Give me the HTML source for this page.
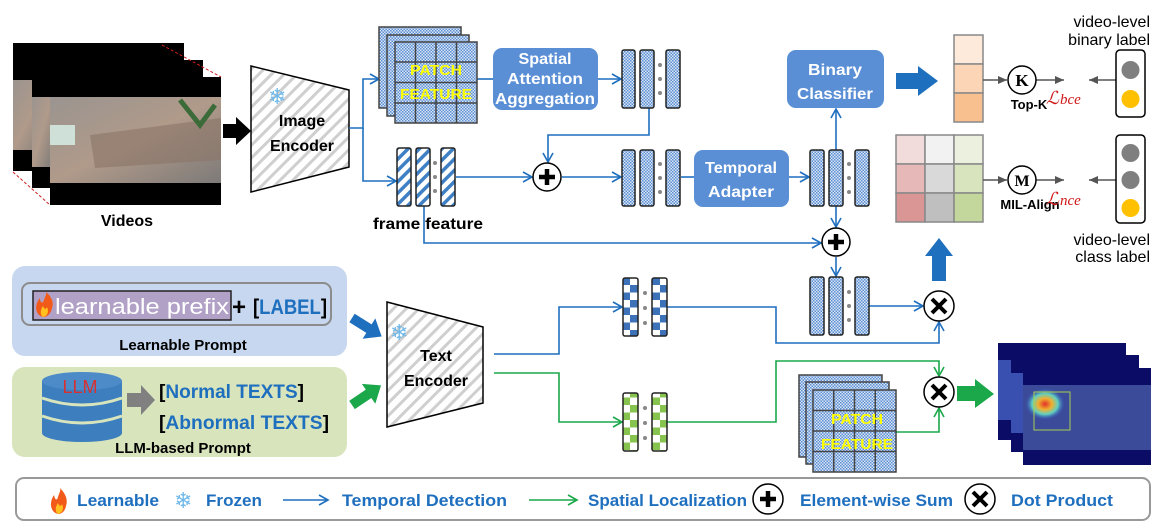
<!DOCTYPE html>
<html><head><meta charset="utf-8"><style>
html,body{margin:0;padding:0;background:#fff;}
svg{display:block;font-family:"Liberation Sans",sans-serif;}
</style></head><body>
<svg width="1162" height="532" viewBox="0 0 1162 532" xmlns="http://www.w3.org/2000/svg">
<defs>
<pattern id="hatch" width="9" height="9" patternUnits="userSpaceOnUse" patternTransform="rotate(45)">
<rect width="9" height="9" fill="#fff"/><rect width="3" height="9" fill="#cfcfcf"/></pattern>
<pattern id="stripe" width="8" height="8" patternUnits="userSpaceOnUse" patternTransform="rotate(45)">
<rect width="8" height="8" fill="#fff"/><rect width="3.5" height="8" fill="#3f7fc4"/></pattern>
<pattern id="dots" width="3" height="3" patternUnits="userSpaceOnUse">
<rect width="3" height="3" fill="#dbe6f5"/><rect width="1.5" height="1.5" fill="#5b8ed2"/><rect x="1.5" y="1.5" width="1.5" height="1.5" fill="#5b8ed2"/></pattern>
<pattern id="chkB" width="15" height="15" patternUnits="userSpaceOnUse">
<rect width="15" height="15" fill="#fff"/><rect width="7.5" height="7.5" fill="#3d72b8"/><rect x="7.5" y="7.5" width="7.5" height="7.5" fill="#3d72b8"/></pattern>
<pattern id="chkG" width="15" height="15" patternUnits="userSpaceOnUse">
<rect width="15" height="15" fill="#fff"/><rect width="7.5" height="7.5" fill="#86c34f"/><rect x="7.5" y="7.5" width="7.5" height="7.5" fill="#86c34f"/></pattern>
<marker id="ab" markerWidth="12" markerHeight="12" refX="10" refY="6" orient="auto" markerUnits="userSpaceOnUse">
<path d="M1,1 L10,6 L1,11" fill="none" stroke="#1f6fbf" stroke-width="1.6"/></marker>
<marker id="ag" markerWidth="12" markerHeight="12" refX="10" refY="6" orient="auto" markerUnits="userSpaceOnUse">
<path d="M1,1 L10,6 L1,11" fill="none" stroke="#1aa84a" stroke-width="1.6"/></marker>
<marker id="agr" markerWidth="10" markerHeight="10" refX="9" refY="5" orient="auto" markerUnits="userSpaceOnUse">
<path d="M0,1 L9,5 L0,9 Z" fill="#555"/></marker>
<linearGradient id="photo" x1="0" y1="0" x2="1" y2="1">
<stop offset="0" stop-color="#9a9490"/><stop offset="0.5" stop-color="#b09a8a"/><stop offset="1" stop-color="#7d7a78"/></linearGradient>
<radialGradient id="heat" cx="0.5" cy="0.5" r="0.5">
<stop offset="0" stop-color="#e0302a"/><stop offset="0.35" stop-color="#f0b030"/><stop offset="0.65" stop-color="#60d0c0"/><stop offset="1" stop-color="#3050c0" stop-opacity="0"/></radialGradient>
</defs>

<!-- Videos -->
<g>
<rect x="13" y="43" width="171" height="128" fill="#000"/>
<rect x="13" y="80" width="36" height="70" fill="url(#photo)"/>
<rect x="32" y="60" width="171" height="128" fill="#000"/>
<rect x="32" y="97" width="20" height="70" fill="url(#photo)"/>
<rect x="50" y="77" width="171" height="128" fill="#000"/>
<rect x="50" y="97" width="171" height="86" fill="url(#photo)"/>
<rect x="50" y="125" width="25" height="20" fill="#cfe0d8"/>
<path d="M90,135 L221,118 L221,160 L95,168 Z" fill="#8a7468" opacity="0.6"/>
<path d="M180,100 L200,125 L215,105" stroke="#3c6b3a" stroke-width="5" fill="none"/>
<line x1="162" y1="45" x2="221" y2="77" stroke="#d02020" stroke-dasharray="3,2"/>
<line x1="13" y1="172" x2="50" y2="205" stroke="#d02020" stroke-dasharray="3,2"/>
<text x="127" y="226" font-size="16" font-weight="bold" text-anchor="middle">Videos</text>
</g>
<path d="M223,124 L236,124 L236,117 L251,131 L236,145 L236,138 L223,138 Z" fill="#000"/>

<!-- Image encoder -->
<path d="M251,66 L349,90 L349,167 L251,192 Z" fill="url(#hatch)" stroke="#000" stroke-width="1.5"/>
<text x="268" y="104" font-size="22" fill="#6fb8e8">❄</text>
<text x="302" y="126" font-size="16" font-weight="bold" text-anchor="middle">Image</text>
<text x="302" y="151" font-size="16" font-weight="bold" text-anchor="middle">Encoder</text>

<!-- connectors -->
<g fill="none" stroke="#1f6fbf" stroke-width="1.6">
<path d="M349,128 L363,128 L363,79 L379,79" marker-end="url(#ab)"/>
<path d="M363,128 L363,181 L396,181" marker-end="url(#ab)"/>
<path d="M477,79 L493,79"/>
<path d="M598,79 L621,79" marker-end="url(#ab)"/>
<path d="M649,108 L649,135 L548,135 L548,162" marker-end="url(#ab)"/>
<path d="M456,177 L532,177" marker-end="url(#ab)"/>
<path d="M562,177 L621,177" marker-end="url(#ab)"/>
<path d="M681,177 L694,177"/>
<path d="M789,177 L809,177" marker-end="url(#ab)"/>
<path d="M836,150 L836,109" marker-end="url(#ab)"/>
<path d="M836,206 L836,227" marker-end="url(#ab)"/>
<path d="M424,206 L424,243 L821,243" marker-end="url(#ab)"/>
<path d="M836,257 L836,276" marker-end="url(#ab)"/>
<path d="M869,306 L923,306" marker-end="url(#ab)"/>
<path d="M494,354 L559,354 L559,307 L622,307" marker-end="url(#ab)"/>
<path d="M667,307 L776,307 L776,343 L939,343 L939,322" marker-end="url(#ab)"/>
</g>
<g fill="none" stroke="#1aa84a" stroke-width="1.6">
<path d="M494,373 L559,373 L559,422 L622,422" marker-end="url(#ag)"/>
<path d="M667,422 L776,422 L776,361 L939,361 L939,376" marker-end="url(#ag)"/>
<path d="M896,432 L939,432 L939,408" marker-end="url(#ag)"/>
</g>

<!-- Patch stack 1 -->
<g stroke="#444" stroke-width="1.5">
<rect x="379" y="27" width="82" height="81" fill="url(#dots)"/>
<rect x="387" y="35" width="82" height="81" fill="url(#dots)"/>
<rect x="395" y="42" width="82" height="81" fill="url(#dots)"/>
<path d="M415.5,42 V123 M436,42 V123 M456.5,42 V123 M395,62 H477 M395,82.5 H477 M395,103 H477" fill="none"/>
</g>
<text x="436" y="75" font-size="15" font-weight="bold" fill="#ffff00" text-anchor="middle" textLength="52" lengthAdjust="spacingAndGlyphs">PATCH</text>
<text x="436" y="99" font-size="15" font-weight="bold" fill="#ffff00" text-anchor="middle" textLength="72" lengthAdjust="spacingAndGlyphs">FEATURE</text>

<!-- SAA box -->
<rect x="493" y="48" width="105" height="62" rx="9" fill="#5a8fd5"/>
<g font-size="16" font-weight="bold" fill="#fff" text-anchor="middle">
<text x="545" y="64" textLength="53" lengthAdjust="spacingAndGlyphs">Spatial</text><text x="545" y="84" textLength="76" lengthAdjust="spacingAndGlyphs">Attention</text><text x="545" y="104" textLength="100" lengthAdjust="spacingAndGlyphs">Aggregation</text>
</g>

<!-- feature columns -->
<g stroke="#222" stroke-width="1.5">
<rect x="622" y="50" width="13" height="58" rx="2" fill="url(#dots)"/>
<rect x="640" y="50" width="14" height="58" rx="2" fill="url(#dots)"/>
<rect x="666" y="50" width="14" height="58" rx="2" fill="url(#dots)"/>
<rect x="622" y="150" width="13" height="56" rx="2" fill="url(#dots)"/>
<rect x="640" y="150" width="14" height="56" rx="2" fill="url(#dots)"/>
<rect x="666" y="150" width="14" height="56" rx="2" fill="url(#dots)"/>
<rect x="810" y="150" width="14" height="56" rx="2" fill="url(#dots)"/>
<rect x="829" y="150" width="14" height="56" rx="2" fill="url(#dots)"/>
<rect x="855" y="150" width="14" height="56" rx="2" fill="url(#dots)"/>
<rect x="810" y="277" width="14" height="58" rx="2" fill="url(#dots)"/>
<rect x="829" y="277" width="14" height="58" rx="2" fill="url(#dots)"/>
<rect x="855" y="277" width="14" height="58" rx="2" fill="url(#dots)"/>
<rect x="397" y="148" width="14" height="58" rx="2" fill="url(#stripe)"/>
<rect x="416" y="148" width="14" height="58" rx="2" fill="url(#stripe)"/>
<rect x="441" y="148" width="14" height="58" rx="2" fill="url(#stripe)"/>
<rect x="623" y="278" width="15" height="58" rx="2" fill="url(#chkB)"/>
<rect x="652" y="278" width="15" height="58" rx="2" fill="url(#chkB)"/>
<rect x="623" y="393" width="15" height="58" rx="2" fill="url(#chkG)"/>
<rect x="652" y="393" width="15" height="58" rx="2" fill="url(#chkG)"/>
</g>
<g fill="#888">
<circle cx="660" cy="65" r="2"/><circle cx="660" cy="79" r="2"/><circle cx="660" cy="93" r="2"/>
<circle cx="660" cy="164" r="2"/><circle cx="660" cy="178" r="2"/><circle cx="660" cy="192" r="2"/>
<circle cx="849" cy="164" r="2"/><circle cx="849" cy="178" r="2"/><circle cx="849" cy="192" r="2"/>
<circle cx="849" cy="292" r="2"/><circle cx="849" cy="306" r="2"/><circle cx="849" cy="320" r="2"/>
<circle cx="435" cy="163" r="2"/><circle cx="435" cy="177" r="2"/><circle cx="435" cy="191" r="2"/>
<circle cx="645" cy="293" r="2"/><circle cx="645" cy="308" r="2"/><circle cx="645" cy="323" r="2"/>
<circle cx="645" cy="408" r="2"/><circle cx="645" cy="423" r="2"/><circle cx="645" cy="438" r="2"/>
</g>
<text x="428" y="229" font-size="16" font-weight="bold" text-anchor="middle" textLength="110" lengthAdjust="spacingAndGlyphs">frame feature</text>

<!-- plus circles -->
<circle cx="547" cy="177" r="14" fill="#fff" stroke="#000" stroke-width="1.5"/>
<path d="M539,177 H555 M547,169 V185" stroke="#000" stroke-width="4.5"/>
<circle cx="836" cy="242" r="14" fill="#fff" stroke="#000" stroke-width="1.5"/>
<path d="M828,242 H844 M836,234 V250" stroke="#000" stroke-width="4.5"/>

<!-- Temporal adapter -->
<rect x="694" y="150" width="95" height="57" rx="9" fill="#5a8fd5"/>
<text x="741" y="173" font-size="16" font-weight="bold" fill="#fff" text-anchor="middle" textLength="72" lengthAdjust="spacingAndGlyphs">Temporal</text>
<text x="741" y="197" font-size="16" font-weight="bold" fill="#fff" text-anchor="middle" textLength="66" lengthAdjust="spacingAndGlyphs">Adapter</text>
<!-- Binary classifier -->
<rect x="787" y="50" width="97" height="58" rx="9" fill="#5a8fd5"/>
<text x="835" y="75" font-size="16" font-weight="bold" fill="#fff" text-anchor="middle" textLength="54" lengthAdjust="spacingAndGlyphs">Binary</text>
<text x="835" y="99" font-size="16" font-weight="bold" fill="#fff" text-anchor="middle" textLength="76" lengthAdjust="spacingAndGlyphs">Classifier</text>

<!-- big blue arrows -->
<path d="M896,73 L918,73 L918,66 L938,81 L918,96 L918,89 L896,89 Z" fill="#1f6fbf"/>
<path d="M932,281 L932,256 L925,256 L939,238 L953,256 L946,256 L946,281 Z" fill="#1f6fbf"/>

<!-- orange column -->
<g stroke="#888" stroke-width="1.5">
<rect x="954" y="35" width="29" height="29" fill="#fdeada"/>
<rect x="954" y="64" width="29" height="29" fill="#fbd5b5"/>
<rect x="954" y="93" width="29" height="29" fill="#f9c08f"/>
</g>
<!-- matrix -->
<g stroke="#888" stroke-width="1.5">
<rect x="896" y="135" width="29" height="29" fill="#f2dcdb"/>
<rect x="925" y="135" width="29" height="29" fill="#f2f2f2"/>
<rect x="954" y="135" width="29" height="29" fill="#ebf1de"/>
<rect x="896" y="164" width="29" height="29" fill="#e6b9b8"/>
<rect x="925" y="164" width="29" height="29" fill="#d9d9d9"/>
<rect x="954" y="164" width="29" height="29" fill="#d7e4bd"/>
<rect x="896" y="193" width="29" height="29" fill="#d99694"/>
<rect x="925" y="193" width="29" height="29" fill="#bfbfbf"/>
<rect x="954" y="193" width="29" height="29" fill="#c3d69b"/>
</g>
<!-- K / M -->
<g stroke="#555" stroke-width="1.6" fill="none">
<path d="M983,80 L1007,80" marker-end="url(#agr)"/>
<path d="M1036,80 L1064,80" marker-end="url(#agr)"/>
<path d="M1116,80 L1089,80" marker-end="url(#agr)"/>
<path d="M983,180 L1007,180" marker-end="url(#agr)"/>
<path d="M1036,180 L1064,180" marker-end="url(#agr)"/>
<path d="M1116,180 L1089,180" marker-end="url(#agr)"/>
</g>
<circle cx="1022" cy="80" r="14" fill="#fff" stroke="#000" stroke-width="1.5"/>
<text x="1022" y="86" font-family="Liberation Serif,serif" font-size="17" font-weight="bold" text-anchor="middle">K</text>
<circle cx="1022" cy="180" r="14" fill="#fff" stroke="#000" stroke-width="1.5"/>
<text x="1022" y="186" font-family="Liberation Serif,serif" font-size="16" font-weight="bold" text-anchor="middle">M</text>
<text x="1029" y="109" font-size="13" font-weight="bold" text-anchor="middle">Top-K</text>
<text x="1030" y="209" font-size="13" font-weight="bold" text-anchor="middle">MIL-Align</text>
<text x="1046" y="104" font-family="Liberation Serif,serif" font-style="italic" font-size="18" fill="#d01818">ℒ<tspan font-size="15" dx="1">bce</tspan></text>
<text x="1046" y="205" font-family="Liberation Serif,serif" font-style="italic" font-size="18" fill="#d01818">ℒ<tspan font-size="15" dx="1">nce</tspan></text>

<!-- traffic lights -->
<rect x="1116" y="50" width="29" height="67" rx="4" fill="#fff" stroke="#000" stroke-width="1.5"/>
<circle cx="1130.5" cy="70" r="9" fill="#7f7f7f"/><circle cx="1130.5" cy="99" r="9" fill="#ffc000"/>
<rect x="1116" y="135" width="29" height="88" rx="4" fill="#fff" stroke="#000" stroke-width="1.5"/>
<circle cx="1130.5" cy="153" r="9" fill="#7f7f7f"/><circle cx="1130.5" cy="180" r="9" fill="#7f7f7f"/><circle cx="1130.5" cy="208" r="9" fill="#ffc000"/>
<g font-size="16" text-anchor="end">
<text x="1150" y="27">video-level</text><text x="1150" y="45">binary label</text>
<text x="1150" y="245">video-level</text><text x="1150" y="262">class label</text>
</g>

<!-- prompt boxes -->
<rect x="12" y="266" width="335" height="90" rx="13" fill="#c6d7ef"/>
<rect x="22" y="283" width="309" height="42" rx="8" fill="none" stroke="#8c8c8c" stroke-width="2"/>
<rect x="33" y="291" width="198" height="29" fill="#b2a1c7" stroke="#222" stroke-width="1.5"/>
<path d="M43,317 C35,315 34,305 40,298 C40,303 43,304 44,300 C45,296 47,295 46,292 C52,297 54,303 52,308 C51,313 48,317 43,317 Z" fill="#f25a1a"/>
<path d="M43,317 C40,315 40,310 43,306 C44,309 46,310 47,307 C49,311 48,316 43,317 Z" fill="#ffc020"/>
<text x="55" y="314" font-size="22" fill="#fff" textLength="174" lengthAdjust="spacingAndGlyphs">learnable prefix</text>
<text x="232" y="315" font-size="24" font-weight="bold">+</text>
<text x="253" y="314" font-size="21" font-weight="bold" fill="#1f6fbf" textLength="74" lengthAdjust="spacingAndGlyphs"><tspan fill="#000">[</tspan>LABEL<tspan fill="#000">]</tspan></text>
<text x="183" y="350" font-size="15" font-weight="bold" text-anchor="middle">Learnable Prompt</text>

<rect x="12" y="367" width="335" height="90" rx="13" fill="#d8e4bc"/>
<rect x="42" y="381" width="80" height="52" fill="#3d7ebf"/>
<ellipse cx="82" cy="433" rx="40" ry="9" fill="#3d7ebf"/>
<ellipse cx="82" cy="381" rx="40" ry="9" fill="#4d8bc8"/>
<path d="M42,398 Q82,412 122,398 M42,416 Q82,430 122,416" stroke="#d8e4bc" stroke-width="3" fill="none"/>
<text x="80" y="393" font-size="18" fill="#d83030" text-anchor="middle">LLM</text>
<path d="M127,393 L141,393 L141,385 L155,400 L141,415 L141,407 L127,407 Z" fill="#808080"/>
<text x="159" y="398" font-size="19" font-weight="bold" fill="#1f6fbf" textLength="145" lengthAdjust="spacingAndGlyphs"><tspan fill="#000">[</tspan>Normal TEXTS<tspan fill="#000">]</tspan></text>
<text x="159" y="429" font-size="19" font-weight="bold" fill="#1f6fbf" textLength="170" lengthAdjust="spacingAndGlyphs"><tspan fill="#000">[</tspan>Abnormal TEXTS<tspan fill="#000">]</tspan></text>
<text x="183" y="453" font-size="15" font-weight="bold" text-anchor="middle">LLM-based Prompt</text>

<!-- prompt->encoder arrows -->
<g transform="translate(352,318) rotate(32)">
<path d="M0,-5 L20,-5 L20,-12 L35,0 L20,12 L20,5 L0,5 Z" fill="#1f6fbf"/>
</g>
<g transform="translate(352,405) rotate(-34)">
<path d="M0,-5 L20,-5 L20,-12 L35,0 L20,12 L20,5 L0,5 Z" fill="#1aa84a"/>
</g>

<!-- Text encoder -->
<path d="M387,302 L483,327 L483,403 L387,427 Z" fill="url(#hatch)" stroke="#000" stroke-width="1.5"/>
<text x="390" y="340" font-size="22" fill="#6fb8e8">❄</text>
<text x="436" y="361" font-size="16" font-weight="bold" text-anchor="middle">Text</text>
<text x="436" y="386" font-size="16" font-weight="bold" text-anchor="middle">Encoder</text>

<!-- dot product circles -->
<circle cx="939" cy="306" r="15" fill="#fff" stroke="#000" stroke-width="1.5"/>
<path d="M932,299 L946,313 M946,299 L932,313" stroke="#000" stroke-width="4"/>
<circle cx="939" cy="392" r="15" fill="#fff" stroke="#000" stroke-width="1.5"/>
<path d="M932,385 L946,399 M946,385 L932,399" stroke="#000" stroke-width="4"/>

<!-- Patch stack 2 -->
<g stroke="#444" stroke-width="1.5">
<rect x="799" y="375" width="83" height="82" fill="url(#dots)"/>
<rect x="806" y="382" width="83" height="82" fill="url(#dots)"/>
<rect x="813" y="390" width="83" height="82" fill="url(#dots)"/>
<path d="M833.75,390 V472 M854.5,390 V472 M875.25,390 V472 M813,410.5 H896 M813,431 H896 M813,451.5 H896" fill="none"/>
</g>
<text x="857" y="424" font-size="15" font-weight="bold" fill="#ffff00" text-anchor="middle" textLength="52" lengthAdjust="spacingAndGlyphs">PATCH</text>
<text x="857" y="449" font-size="15" font-weight="bold" fill="#ffff00" text-anchor="middle" textLength="72" lengthAdjust="spacingAndGlyphs">FEATURE</text>

<!-- green big arrow -->
<path d="M957,386 L975,386 L975,379 L994,394 L975,408 L975,401 L957,401 Z" fill="#1aa84a"/>

<!-- heatmap frames -->
<rect x="998" y="343" width="128" height="97" fill="#0b0c66"/>
<rect x="998" y="360" width="14" height="60" fill="#3a50b0"/>
<rect x="1011" y="355" width="128" height="97" fill="#0b0c66"/>
<rect x="1011" y="373" width="14" height="60" fill="#3a50b0"/>
<rect x="1023" y="368" width="128" height="97" fill="#0b0c66"/>
<rect x="1023" y="385" width="128" height="65" fill="#3c4a9a"/>
<ellipse cx="1045" cy="404" rx="20" ry="16" fill="url(#heat)"/>
<rect x="1034" y="392" width="36" height="38" fill="none" stroke="#a8d050" stroke-width="1"/>

<!-- legend -->
<rect x="16" y="478" width="1134" height="42" rx="8" fill="#fff" stroke="#999" stroke-width="2"/>
<path d="M58,514 C50,512 49,502 54,495 C55,500 57,501 58,497 C59,493 61,491 60,488 C66,494 68,500 66,506 C65,511 62,514 58,514 Z" fill="#f25a1a"/>
<path d="M58,514 C55,512 55,507 58,503 C59,506 61,507 62,504 C64,508 63,513 58,514 Z" fill="#ffc020"/>
<g font-size="17" font-weight="bold" fill="#1f6fbf">
<text x="77" y="506" textLength="82" lengthAdjust="spacingAndGlyphs">Learnable</text>
<text x="206" y="506" textLength="56" lengthAdjust="spacingAndGlyphs">Frozen</text>
<text x="342" y="506" textLength="165" lengthAdjust="spacingAndGlyphs">Temporal Detection</text>
<text x="588" y="506" textLength="159" lengthAdjust="spacingAndGlyphs">Spatial Localization</text>
<text x="800" y="506" textLength="153" lengthAdjust="spacingAndGlyphs">Element-wise Sum</text>
<text x="1011" y="506" textLength="102" lengthAdjust="spacingAndGlyphs">Dot Product</text>
</g>
<text x="174" y="508" font-size="22" fill="#6fb8e8">❄</text>
<path d="M283,500 L328,500" stroke="#1f6fbf" stroke-width="1.6" marker-end="url(#ab)"/>
<path d="M529,500 L577,500" stroke="#1aa84a" stroke-width="1.6" marker-end="url(#ag)"/>
<circle cx="768" cy="499" r="15" fill="#fff" stroke="#000" stroke-width="1.5"/>
<path d="M760,499 H776 M768,491 V507" stroke="#000" stroke-width="4.5"/>
<circle cx="980" cy="499" r="15" fill="#fff" stroke="#000" stroke-width="1.5"/>
<path d="M973,492 L987,506 M987,492 L973,506" stroke="#000" stroke-width="4"/>
</svg>
</body></html>
